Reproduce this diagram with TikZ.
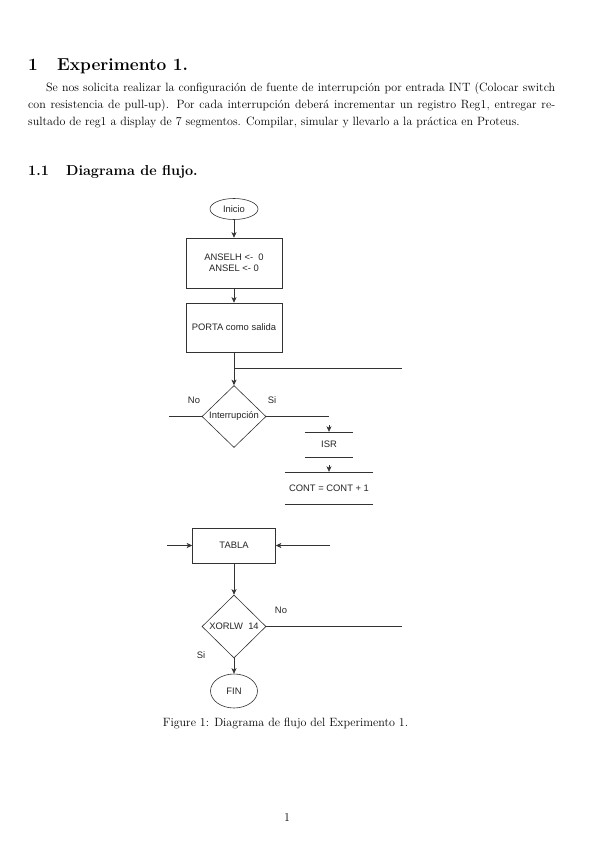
\documentclass[tikz,border=0pt]{standalone}
\usepackage{fontspec}
\newfontfamily\flowfont{Liberation Sans}
\usetikzlibrary{shapes.geometric,arrows.meta}
\begin{document}
\begin{tikzpicture}[x=1pt,y=-1pt,
  body/.style={anchor=base west,inner sep=0pt,font=\fontsize{12}{14.5}\selectfont},
  sec/.style={anchor=base west,inner sep=0pt,font=\fontsize{17.28}{22}\selectfont\bfseries},
  subsec/.style={anchor=base west,inner sep=0pt,font=\fontsize{14.4}{18}\selectfont\bfseries},
  fl/.style={font=\flowfont\fontsize{9.4}{11.5}\selectfont,text=black!85},
  ln/.style={line width=0.6pt,draw=black!80},
  arr/.style={ln,-{Stealth[length=5.5pt,width=5pt,inset=1.5pt]}},
  procbox/.style={fl,draw=black!80,line width=0.6pt,inner sep=0pt,align=center},
  ell/.style={fl,ellipse,draw=black!80,line width=0.6pt,inner sep=0pt},
  dia/.style={fl,diamond,draw=black!80,line width=0.6pt,inner sep=0pt},
  open/.style={fl,inner sep=0pt},
  lbl/.style={fl,inner sep=0pt,anchor=center}]
\useasboundingbox (0,0) rectangle (599,848);
\fill[white] (0,0) rectangle (599,848);

% headings and text
\node[sec] (secnum) at (28,71) {1};
\node[sec] (sectitle) at (57,71) {Experimento 1.};
\node[body] (p1) at (46,92) {\makebox[509pt][s]{Se nos solicita realizar la configuración de fuente de interrupción por entrada INT (Colocar switch}};
\node[body] (p2) at (28,108.5) {\makebox[527pt][s]{con resistencia de pull-up). Por cada interrupción deberá incrementar un registro Reg1, entregar re-}};
\node[body] (p3) at (28,125) {sultado de reg1 a display de 7 segmentos. Compilar, simular y llevarlo a la práctica en Proteus.};
\node[subsec] (subnum) at (28,175) {1.1};
\node[subsec] (subtitle) at (66,175) {Diagrama de flujo.};

% flowchart nodes
\node[ell,minimum width=48pt,minimum height=21pt] (ini) at (234,209) {\makebox[0pt]{Inicio}};
\node[procbox,minimum width=96pt,minimum height=50pt] (b1) at (234,263) {ANSELH <- \ 0\\ANSEL <- 0};
\node[procbox,minimum width=96pt,minimum height=49pt] (b2) at (234,327.5) {PORTA como salida};
\coordinate (j) at (234,368);
\coordinate (jr) at (402,368);
\node[dia,minimum width=64pt,minimum height=62pt] (int) at (234,416.5) {\makebox[0pt]{Interrupción}};
\coordinate (intl) at (169,416.5);
\coordinate (intr) at (329,416.5);
\node[lbl] (no1) at (194,400.5) {No};
\node[lbl] (si1) at (272,400.5) {Si};

\node[open,minimum width=48pt,minimum height=25pt] (isr) at (329,444.5) {ISR};
\coordinate (isrin) at (329,425);
\node[open,minimum width=88pt,minimum height=32pt] (cont) at (329,488) {CONT = CONT + 1};
\coordinate (contin) at (329,465);

\node[procbox,minimum width=83pt,minimum height=35pt] (tabla) at (234,545.5) {TABLA};
\coordinate (tl) at (167,545.5);
\coordinate (tr) at (330,545.5);
\node[dia,minimum width=64pt,minimum height=63pt] (xor) at (234,626.5) {\makebox[0pt]{XORLW \ 14}};
\coordinate (xr) at (402,626.5);
\node[lbl] (no2) at (281,610) {No};
\node[lbl] (si2) at (201,655) {Si};
\node[ell,minimum width=47pt,minimum height=34pt] (fin) at (234,691) {\makebox[0pt]{FIN}};

% connectors
\draw[arr] (ini) -- (b1);
\draw[arr] (b1) -- (b2);
\draw[ln] (b2.south) -- (j) -- (jr);
\draw[arr] (j) -- (int.north);
\draw[ln] (int.west) -- (intl);
\draw[ln] (int.east) -- (intr);
\draw[ln] (isr.north west) -- (isr.north east) (isr.south west) -- (isr.south east);
\draw[arr] (isrin) -- (isr.north);
\draw[ln] (cont.north west) -- (cont.north east) (cont.south west) -- (cont.south east);
\draw[arr] (contin) -- (cont.north);
\draw[arr] (tl) -- (tabla.west);
\draw[arr] (tr) -- (tabla.east);
\draw[arr] (tabla) -- (xor.north);
\draw[ln] (xor.east) -- (xr);
\draw[arr] (xor.south) -- (fin.north);

% caption and page number
\node[anchor=base,inner sep=0pt,font=\fontsize{12}{14.5}\selectfont] (cap) at (285.5,726) {Figure 1: Diagrama de flujo del Experimento 1.};
\node[anchor=base,inner sep=0pt,font=\fontsize{12}{14.5}\selectfont] (pg) at (287,821) {1};
\end{tikzpicture}
\end{document}
